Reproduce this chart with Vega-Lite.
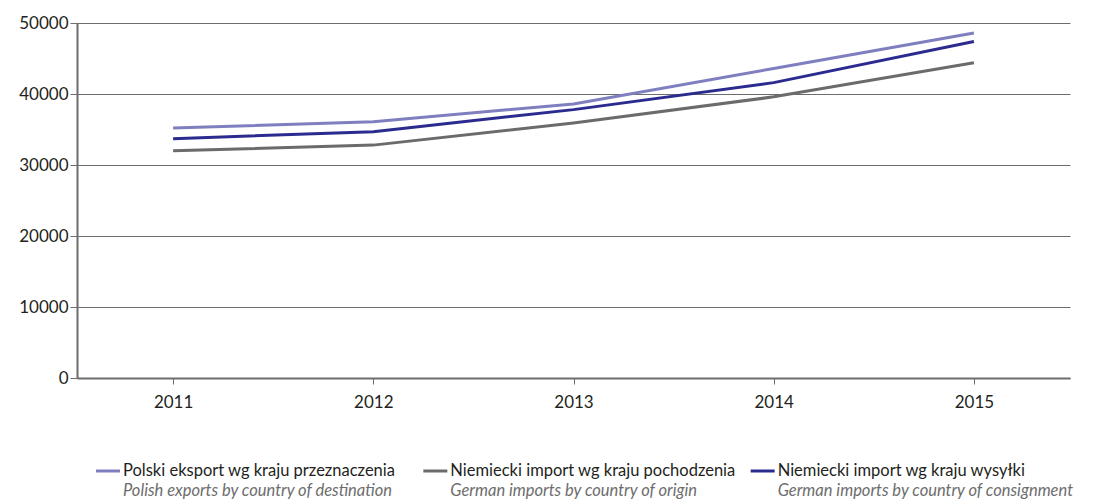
{
  "$schema": "https://vega.github.io/schema/vega-lite/v6.json",
  "padding": {"left": 5, "top": 14, "right": 5, "bottom": 0},
  "background": "white",
  "config": {"view": {"stroke": null}, "font": "Lato", "concat": {"spacing": 51}},
  "datasets": {
    "trade": [
      {"year": "2011", "series": "Polski eksport wg kraju przeznaczenia", "value": 35200},
      {"year": "2012", "series": "Polski eksport wg kraju przeznaczenia", "value": 36100},
      {"year": "2013", "series": "Polski eksport wg kraju przeznaczenia", "value": 38600},
      {"year": "2014", "series": "Polski eksport wg kraju przeznaczenia", "value": 43600},
      {"year": "2015", "series": "Polski eksport wg kraju przeznaczenia", "value": 48600},
      {"year": "2011", "series": "Niemiecki import wg kraju pochodzenia", "value": 32000},
      {"year": "2012", "series": "Niemiecki import wg kraju pochodzenia", "value": 32800},
      {"year": "2013", "series": "Niemiecki import wg kraju pochodzenia", "value": 35900},
      {"year": "2014", "series": "Niemiecki import wg kraju pochodzenia", "value": 39600},
      {"year": "2015", "series": "Niemiecki import wg kraju pochodzenia", "value": 44400},
      {"year": "2011", "series": "Niemiecki import wg kraju wysyłki", "value": 33700},
      {"year": "2012", "series": "Niemiecki import wg kraju wysyłki", "value": 34700},
      {"year": "2013", "series": "Niemiecki import wg kraju wysyłki", "value": 37800},
      {"year": "2014", "series": "Niemiecki import wg kraju wysyłki", "value": 41600},
      {"year": "2015", "series": "Niemiecki import wg kraju wysyłki", "value": 47400}
    ],
    "legend": [
      {"series": "Polski eksport wg kraju przeznaczenia", "en": "Polish exports by country of destination"},
      {"series": "Niemiecki import wg kraju pochodzenia", "en": "German imports by country of origin"},
      {"series": "Niemiecki import wg kraju wysyłki", "en": "German imports by country of consignment"}
    ]
  },
  "vconcat": [
    {
      "width": 993,
      "height": 355,
      "data": {"name": "trade"},
      "mark": {"type": "line", "strokeWidth": 3},
      "encoding": {
        "x": {
          "field": "year",
          "type": "ordinal",
          "scale": {"type": "point", "padding": 0.48},
          "axis": {
            "title": null,
            "labelAngle": 0,
            "labelFontSize": 17,
            "labelColor": "#231f20",
            "labelPadding": 10,
            "domainColor": "#6d6d6d",
            "domainWidth": 2,
            "tickColor": "#6d6d6d",
            "tickSize": 6,
            "tickWidth": 1
          }
        },
        "y": {
          "field": "value",
          "type": "quantitative",
          "scale": {"domain": [0, 50000], "nice": false},
          "axis": {
            "title": null,
            "values": [0, 10000, 20000, 30000, 40000, 50000],
            "format": "d",
            "labelFontSize": 17,
            "labelColor": "#231f20",
            "labelPadding": 2,
            "domainColor": "#6d6d6d",
            "domainWidth": 2,
            "tickColor": "#6d6d6d",
            "tickSize": 7,
            "gridColor": "#6d6d6d",
            "gridWidth": 1,
            "grid": true,
            "minExtent": 72
          }
        },
        "color": {
          "field": "series",
          "type": "nominal",
          "scale": {
            "domain": ["Polski eksport wg kraju przeznaczenia", "Niemiecki import wg kraju pochodzenia", "Niemiecki import wg kraju wysyłki"],
            "range": ["#7f7fc0", "#6b6b6b", "#2b2b8f"]
          },
          "legend": null
        }
      }
    },
    {
      "width": 982,
      "height": 20,
      "data": {"name": "legend"},
      "encoding": {
        "x": {
          "field": "series",
          "type": "nominal",
          "sort": null,
          "bandPosition": 0,
          "scale": {"type": "band", "paddingInner": 0, "paddingOuter": 0},
          "axis": null
        }
      },
      "layer": [
        {
          "mark": {"type": "point", "shape": "stroke", "size": 576, "strokeWidth": 3, "filled": false, "opacity": 1, "xOffset": 31},
          "encoding": {"color": {"field": "series", "type": "nominal", "legend": null}}
        },
        {
          "mark": {"type": "text", "align": "left", "baseline": "middle", "fontSize": 16.5, "color": "#231f20", "xOffset": 46},
          "encoding": {"text": {"field": "series"}}
        },
        {
          "mark": {"type": "text", "align": "left", "baseline": "middle", "fontSize": 16.5, "fontStyle": "italic", "color": "#6d6d6d", "xOffset": 46, "dy": 20},
          "encoding": {"text": {"field": "en"}}
        }
      ]
    }
  ]
}
